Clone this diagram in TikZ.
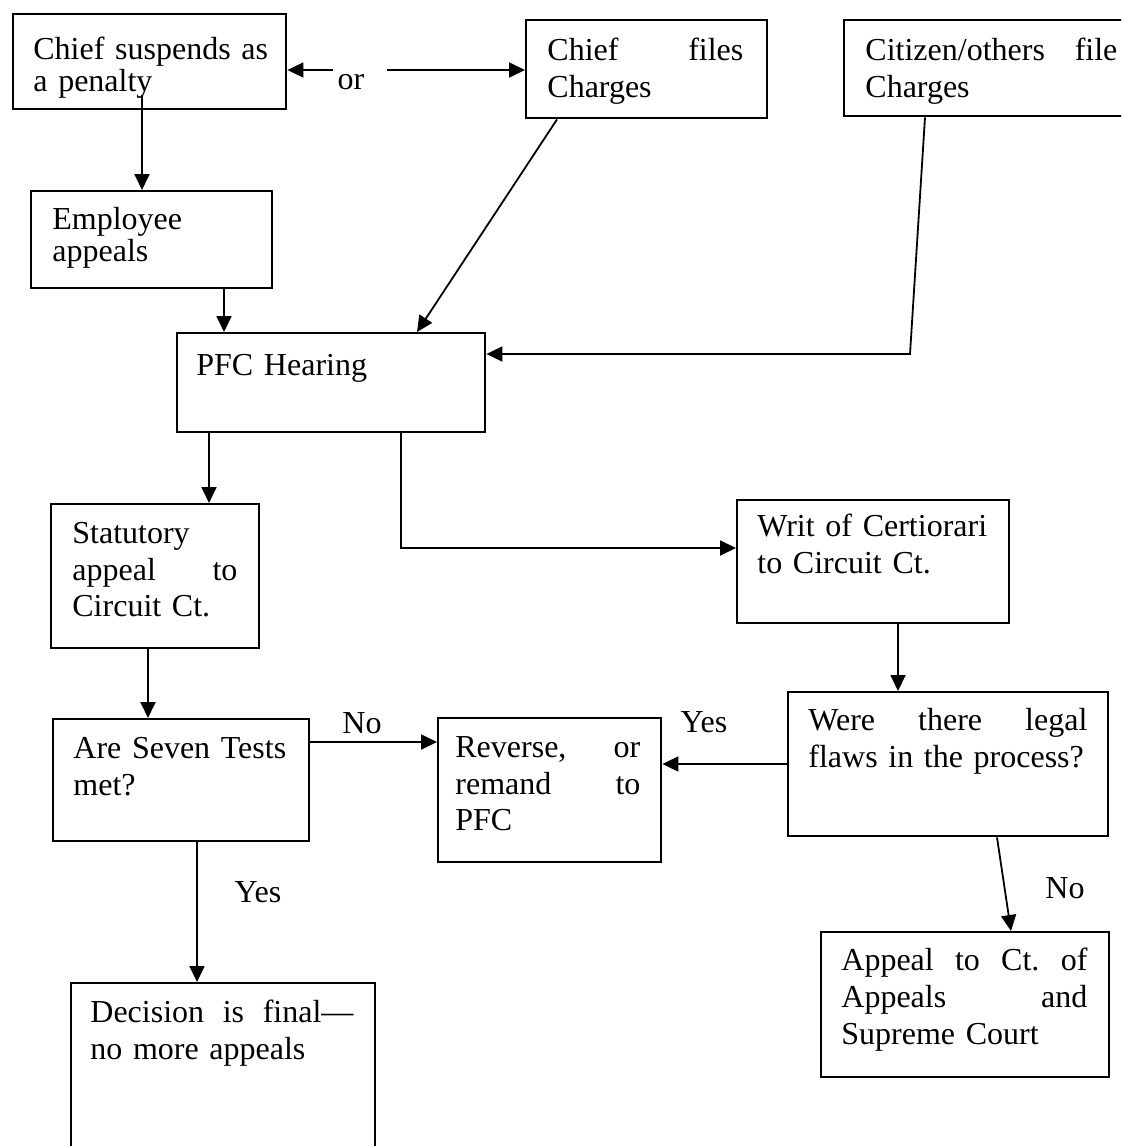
\documentclass[tikz,border=0pt]{standalone}
\usepackage{fontspec}
\setmainfont{Liberation Serif}
\usetikzlibrary{arrows.meta}
\newcommand\tp{\rule{0pt}{11pt}}
\tikzset{
  box/.style={draw, line width=1.2pt, inner sep=0pt},
  txt/.style={inner sep=0pt, anchor=north west, align=left, font=\fontsize{16}{18.3}\selectfont},
  tight/.style={font=\fontsize{16}{16}\selectfont},
  lbl/.style={inner sep=0pt, anchor=base, font=\fontsize{16}{18.3}\selectfont},
  arr/.style={line width=0.9pt, -{Triangle[length=8pt,width=7.5pt]}},
  ln/.style={line width=0.9pt}
}
\begin{document}
\begin{tikzpicture}[x=0.5pt,y=-0.5pt]
\clip (0,0) rectangle (1121,1146);
\fill[white] (0,0) rectangle (1121,1146);
% boxes
\node[box, minimum width=136.5pt, minimum height=47.5pt, anchor=north west] (b1) at (12,13) {};
\node[box, minimum width=120.5pt, minimum height=49pt, anchor=north west] (b2) at (525,19) {};
\node[box, minimum width=145pt, minimum height=48pt, anchor=north west] (b3) at (843,19) {};
\node[box, minimum width=120.5pt, minimum height=48.5pt, anchor=north west] (b4) at (30,190) {};
\node[box, minimum width=154pt, minimum height=49.5pt, anchor=north west] (b5) at (176,332) {};
\node[box, minimum width=104pt, minimum height=72pt, anchor=north west] (b6) at (50,503) {};
\node[box, minimum width=136pt, minimum height=61.5pt, anchor=north west] (b7) at (736,499) {};
\node[box, minimum width=128pt, minimum height=61pt, anchor=north west] (b8) at (52,718) {};
\node[box, minimum width=111.5pt, minimum height=72pt, anchor=north west] (b9) at (437,717) {};
\node[box, minimum width=160pt, minimum height=72pt, anchor=north west] (b10) at (787,691) {};
\node[box, minimum width=152pt, minimum height=95pt, anchor=north west] (b11) at (70,982) {};
\node[box, minimum width=144pt, minimum height=72.5pt, anchor=north west] (b12) at (820,931) {};
% texts
\node[txt, tight, text width=135pt] (t1) at (33,37) {\tp Chief suspends as\\a penalty};
\node[txt, text width=98pt] (t2) at (547,38) {\tp Chief\hfill files\\Charges};
\node[txt, text width=126pt] (t3) at (865,38) {\tp Citizen/others\hfill file\\Charges};
\node[txt, tight, text width=110pt] (t4) at (52,207) {\tp Employee\\appeals};
\node[txt, text width=140pt] (t5) at (196,353) {\tp PFC Hearing};
\node[txt, text width=82.5pt] (t6) at (72,521) {\tp Statutory\\appeal\hfill to\\Circuit Ct.};
\node[txt, text width=125pt] (t7) at (757,514) {\tp Writ of Certiorari\\to Circuit Ct.};
\node[txt, text width=120pt] (t8) at (73,736) {\tp Are Seven Tests\\met?};
\node[txt, text width=92.5pt] (t9) at (455,735) {\tp Reverse,\hfill or\\remand\hfill to\\PFC};
\node[txt, text width=139.5pt] (t10) at (808,708) {\tp Were\hfill there\hfill legal\\flaws in the process?};
\node[txt, text width=131.5pt] (t11) at (90,1000) {\tp Decision\hfill is\hfill final---\\no more appeals};
\node[txt, text width=123pt] (t12) at (841,948) {\tp Appeal\hfill to\hfill Ct.\hfill of\\Appeals\hfill and\\Supreme Court};
% labels
\node[lbl] (or) at (351,89) {or};
\node[lbl] (no1) at (362,733) {No};
\node[lbl] (yes1) at (704,732) {Yes};
\node[lbl] (yes2) at (258,902) {Yes};
\node[lbl] (no2) at (1065,898) {No};
% connectors
\coordinate (orL) at (333,70);
\coordinate (orR) at (387,70);
\draw[arr] (orL) -- (orL -| b1.east);
\draw[arr] (orR) -- (orR -| b2.west);
\coordinate (s1) at (142,95);
\draw[arr] (s1) -- (s1 |- b4.north);
\draw[arr] (224,0 |- b4.south) -- (224,0 |- b5.north);
\draw[arr] (557,0 |- b2.south) -- (417,0 |- b5.north);
\coordinate (c3) at (910,354);
\draw[arr] (925,0 |- b3.south) -- (c3) -- (c3 -| b5.east);
\draw[arr] (209,0 |- b5.south) -- (209,0 |- b6.north);
\coordinate (c5) at (401,548);
\draw[arr] (c5 |- b5.south) -- (c5) -- (c5 -| b7.west);
\draw[arr] (148,0 |- b6.south) -- (148,0 |- b8.north);
\draw[arr] (898,0 |- b7.south) -- (898,0 |- b10.north);
\coordinate (c8) at (0,742);
\draw[arr] (c8 -| b8.east) -- (c8 -| b9.west);
\coordinate (c10) at (0,764);
\draw[arr] (c10 -| b10.west) -- (c10 -| b9.east);
\draw[arr] (197,0 |- b8.south) -- (197,0 |- b11.north);
\draw[arr] (997,0 |- b10.south) -- (1011,0 |- b12.north);
\end{tikzpicture}
\end{document}
